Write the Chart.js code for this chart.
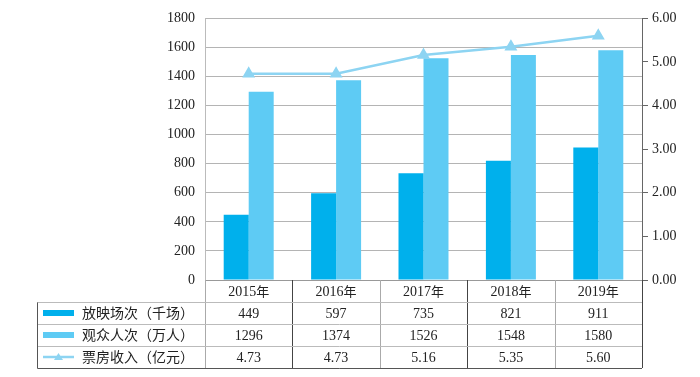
<!DOCTYPE html>
<html lang="zh">
<head>
<meta charset="UTF-8">
<title>放映场次、观众人次与票房收入</title>
<script src="https://cdn.jsdelivr.net/npm/chart.js"></script>
<style>
  body, html { margin: 0; padding: 0; width: 100%; height: 100%; overflow: hidden; background: #fff; }
  #wrap { width: 700px; height: 377px; }
</style>
</head>
<body>
<div id="wrap"><canvas id="c"></canvas></div>
<script>
  const years = ["2015年", "2016年", "2017年", "2018年", "2019年"];
  const screenings = [449, 597, 735, 821, 911];
  const audience = [1296, 1374, 1526, 1548, 1580];
  const boxOffice = [4.73, 4.73, 5.16, 5.35, 5.60];
  const seriesNames = ["放映场次（千场）", "观众人次（万人）", "票房收入（亿元）"];

  const darkBlue = '#00b0ec';
  const lightBlue = '#5ecbf4';
  const lineBlue = '#8dd4f2';
  const serif = '"Liberation Serif", "DejaVu Serif", serif';
  const cjk = '"Noto Sans CJK SC", sans-serif';

  // draws the data table under the plot
  const tablePlugin = {
    id: 'dataTable',
    afterDraw(chart) {
      const ctx = chart.ctx;
      const x = chart.scales.x;
      const area = chart.chartArea;
      const top = area.bottom;
      const rowH = 22;
      const left = 37;
      const right = area.right;
      const rows = [screenings, audience, boxOffice.map(v => v.toFixed(2))];
      ctx.save();
      ctx.lineWidth = 1;
      // vertical lines
      const step = x.getPixelForValue(1) - x.getPixelForValue(0);
      const edges = [area.left];
      for (let i = 0; i < years.length; i++) edges.push(x.getPixelForValue(i) + step / 2);
      edges.forEach((ex, i) => {
        ctx.strokeStyle = i % 2 ? '#444' : '#aaa';
        ctx.beginPath(); ctx.moveTo(Math.round(ex) + 0.5, top); ctx.lineTo(Math.round(ex) + 0.5, top + rowH * 4); ctx.stroke();
      });
      // horizontal lines
      ctx.strokeStyle = '#bbb';
      for (let r = 1; r <= 3; r++) {
        const y = Math.round(top + rowH * r) + 0.5;
        ctx.beginPath(); ctx.moveTo(left, y); ctx.lineTo(right, y); ctx.stroke();
      }
      ctx.strokeStyle = '#555';
      ctx.beginPath();
      ctx.moveTo(left + 0.5, top + rowH + 0.5); ctx.lineTo(left + 0.5, top + rowH * 4 + 0.5);
      ctx.lineTo(right, top + rowH * 4 + 0.5);
      ctx.stroke();
      // year header
      ctx.fillStyle = '#222';
      ctx.textBaseline = 'middle';
      years.forEach((yr, i) => {
        const num = yr.slice(0, 4);
        ctx.font = '14px ' + serif;
        const wNum = ctx.measureText(num).width;
        ctx.font = '13px ' + cjk;
        const wCh = ctx.measureText('年').width;
        const sx = x.getPixelForValue(i) - (wNum + wCh) / 2;
        ctx.textAlign = 'left';
        ctx.font = '14px ' + serif;
        ctx.fillText(num, sx, top + rowH / 2 + 1);
        ctx.font = '13px ' + cjk;
        ctx.fillText('年', sx + wNum, top + rowH / 2);
      });
      // values
      ctx.textAlign = 'center';
      ctx.font = '14px ' + serif;
      rows.forEach((vals, r) => {
        vals.forEach((v, i) => {
          ctx.fillText(String(v), x.getPixelForValue(i), top + rowH * (r + 1.5) + 1);
        });
      });
      // legend cells
      ctx.textAlign = 'left';
      ctx.font = '14px ' + cjk;
      seriesNames.forEach((name, r) => {
        const cy = top + rowH * (r + 1.5);
        if (r < 2) {
          ctx.fillStyle = r === 0 ? darkBlue : lightBlue;
          ctx.fillRect(43, cy - 3, 31, 6);
        } else {
          ctx.strokeStyle = lineBlue;
          ctx.lineWidth = 2.5;
          ctx.beginPath(); ctx.moveTo(43, cy); ctx.lineTo(74, cy); ctx.stroke();
          ctx.fillStyle = lineBlue;
          ctx.beginPath(); ctx.moveTo(58.5, cy - 4); ctx.lineTo(63, cy + 3); ctx.lineTo(54, cy + 3); ctx.closePath(); ctx.fill();
        }
        ctx.fillStyle = '#222';
        ctx.fillText(name, 82, cy);
      });
      ctx.restore();
    }
  };

  new Chart(document.getElementById('c'), {
    data: {
      labels: years,
      datasets: [
        {
          type: 'line',
          label: seriesNames[2],
          data: boxOffice,
          yAxisID: 'yR',
          borderColor: lineBlue,
          backgroundColor: lineBlue,
          borderWidth: 2.5,
          pointStyle: 'triangle',
          pointRadius: 5,
          pointHoverRadius: 5,
          tension: 0
        },
        {
          type: 'bar',
          label: seriesNames[0],
          data: screenings,
          yAxisID: 'yL',
          backgroundColor: darkBlue,
          categoryPercentage: 0.572,
          barPercentage: 1
        },
        {
          type: 'bar',
          label: seriesNames[1],
          data: audience,
          yAxisID: 'yL',
          backgroundColor: lightBlue,
          categoryPercentage: 0.572,
          barPercentage: 1
        }
      ]
    },
    options: {
      responsive: true,
      maintainAspectRatio: false,
      animation: false,
      layout: { padding: { top: 18, bottom: 97, left: 0, right: 0 } },
      plugins: { legend: { display: false }, tooltip: { enabled: false } },
      scales: {
        x: {
          display: true,
          ticks: { display: false },
          grid: { display: false, drawTicks: false },
          border: { color: '#999' }
        },
        yL: {
          position: 'left',
          min: 0, max: 1800,
          ticks: { stepSize: 200, color: '#222', font: { family: serif, size: 14 }, padding: 10, callback: v => String(v) },
          grid: { color: '#b4b4b4', drawTicks: false },
          border: { color: '#bbb' },
          afterFit(s) { s.width = 205; }
        },
        yR: {
          position: 'right',
          min: 0, max: 6,
          ticks: { stepSize: 1, color: '#222', font: { family: serif, size: 14 }, padding: 4, callback: v => v.toFixed(2) },
          grid: { drawOnChartArea: false, color: '#666', tickLength: 6 },
          border: { color: '#666' },
          afterFit(s) { s.width = 58; }
        }
      }
    },
    plugins: [tablePlugin]
  });
</script>
</body>
</html>
